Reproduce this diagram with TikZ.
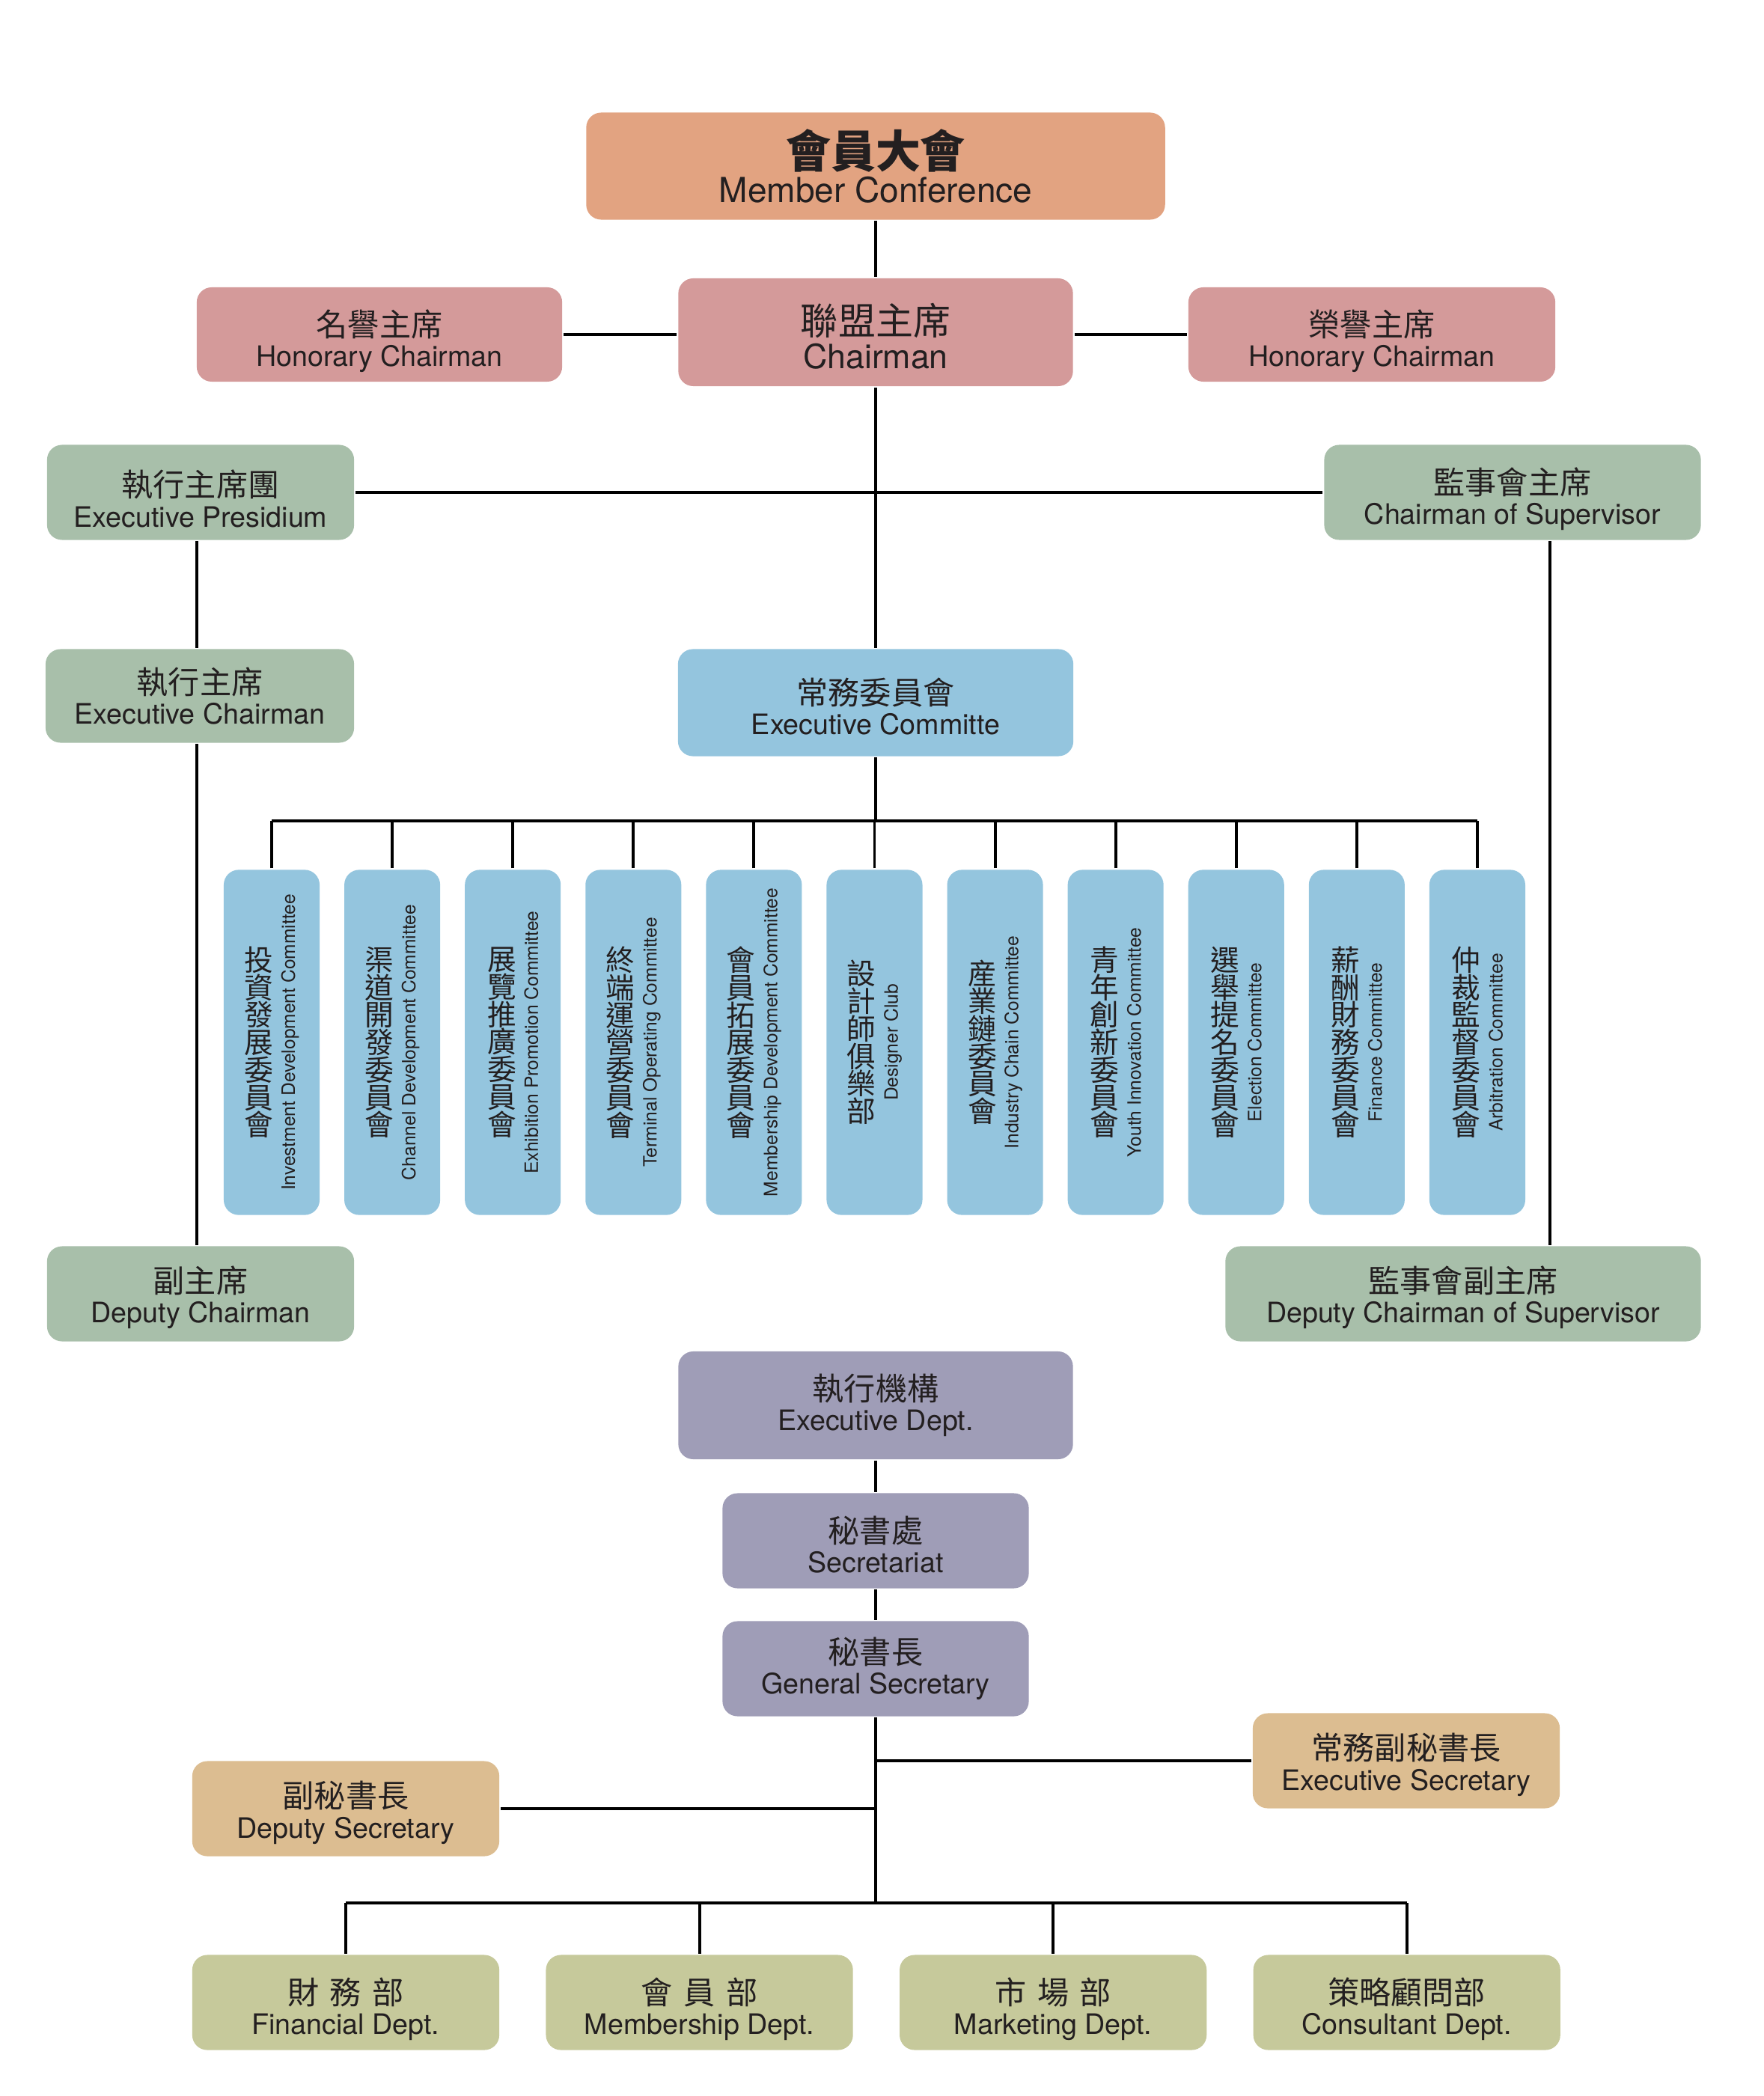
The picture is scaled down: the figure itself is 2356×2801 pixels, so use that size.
\documentclass[tikz,border=0pt]{standalone}
\usepackage{fontspec}
\setmainfont{TeX Gyre Heros}
\newfontfamily\cjk{Noto Sans CJK TC}[Scale=1.12]
\usepackage{graphicx}
\usetikzlibrary{positioning}

\definecolor{confcol}{HTML}{E2A381}
\definecolor{chaircol}{HTML}{D49A9A}
\definecolor{presicol}{HTML}{A8BFAA}
\definecolor{commcol}{HTML}{94C5DE}
\definecolor{deptcol}{HTML}{9F9DB7}
\definecolor{seccol}{HTML}{DCBD91}
\definecolor{unitcol}{HTML}{C6C99B}
\definecolor{inkcol}{HTML}{231F20}

\newcommand{\zh}[2][15pt]{{\cjk\rule{0pt}{#1}#2}}
% committee text: upright chinese column, english turned up
\newcommand{\comm}[2]{%
  $\vcenter{\cjk\fontsize{9.82}{10.45}\selectfont\lineskiplimit=-20pt\let\\\cr
    \halign{\hfil##\hfil\cr#1\cr}}$%
  \hspace{3pt}%
  $\vcenter{\hbox{\rotatebox{90}{\fontsize{7}{8}\selectfont #2}}}$}

\begin{document}
\begin{tikzpicture}[x=0.01cm, y=-0.01cm, line width=1.1pt, on grid,
    box/.style={rounded corners=0.2cm, inner sep=0pt, align=center, text=inkcol,
      minimum width=4.1cm, minimum height=1.27cm, font=\fontsize{10.7}{11.5}\selectfont},
    big/.style={box, minimum width=5.27cm, minimum height=1.44cm,
      font=\fontsize{12.7}{13}\selectfont},
    committee/.style={rounded corners=0.2cm, inner sep=0pt, fill=commcol, text=inkcol,
      minimum width=1.28cm, minimum height=4.61cm},
    unit/.style={box, fill=unitcol}]

    \useasboundingbox (0,0) rectangle (2356,2801);

    %% TOP
    \node[box, fill=confcol, minimum width=7.73cm, minimum height=1.43cm,
      font=\fontsize{13.1}{12.8}\selectfont] (conf) at (1170,222)
      {{\cjk\bfseries\fontsize{15.2}{15.2}\selectfont 會員大會}\\Member Conference};
    \node[big, fill=chaircol] (chair) at (1170,444) {\zh{聯盟主席}\\Chairman};
    \node[box, fill=chaircol, minimum width=4.88cm, minimum height=1.26cm] (hon1) at (507,447)
      {\zh{名譽主席}\\Honorary Chairman};
    \node[box, fill=chaircol, minimum width=4.9cm, minimum height=1.26cm] (hon2) at (1833,447)
      {\zh{榮譽主席}\\Honorary Chairman};

    % presidium and supervisors
    \node[box, fill=presicol] (presid) at (268,658) {\zh{執行主席團}\\Executive Presidium};
    \node[box, fill=presicol, minimum width=5.03cm] (super) at (2021,658)
      {\zh{監事會主席}\\Chairman of Supervisor};
    \node[box, fill=presicol, minimum width=4.12cm, minimum height=1.25cm] (exchair) at (267,930)
      {\zh[10pt]{執行主席}\\Executive Chairman};
    \node[box, fill=commcol, minimum width=5.28cm, minimum height=1.43cm] (excomm) at (1170,939)
      {\zh[13pt]{常務委員會}\\Executive Committe};
    \node[box, fill=presicol] (depchair) at (268,1729) {\zh[13pt]{副主席}\\Deputy Chairman};
    \node[box, fill=presicol, minimum width=6.35cm] (depsuper) at (1955,1729)
      {\zh[13pt]{監事會副主席}\\Deputy Chairman of Supervisor};

    %% COMMITTEES
    \node[committee] (c1) at (363,1393) {\comm{投\\資\\發\\展\\委\\員\\會}{Investment Development Committee}};
    \node[committee, right=1.61cm of c1] (c2) {\comm{渠\\道\\開\\發\\委\\員\\會}{Channel Development Committee}};
    \node[committee, right=1.61cm of c2] (c3) {\comm{展\\覽\\推\\廣\\委\\員\\會}{Exhibition Promotion Committee}};
    \node[committee, right=1.61cm of c3] (c4) {\comm{終\\端\\運\\營\\委\\員\\會}{Terminal Operating Committee}};
    \node[committee, right=1.61cm of c4] (c5) {\comm{會\\員\\拓\\展\\委\\員\\會}{Membership Development Committee}};
    \node[committee, right=1.61cm of c5] (c6) {\comm{設\\計\\師\\俱\\樂\\部}{Designer Club}};
    \node[committee, right=1.61cm of c6] (c7) {\comm{産\\業\\鏈\\委\\員\\會}{Industry Chain Committee}};
    \node[committee, right=1.61cm of c7] (c8) {\comm{青\\年\\創\\新\\委\\員\\會}{Youth Innovation Committee}};
    \node[committee, right=1.61cm of c8] (c9) {\comm{選\\舉\\提\\名\\委\\員\\會}{Election Committee}};
    \node[committee, right=1.61cm of c9] (c10) {\comm{薪\\酬\\財\\務\\委\\員\\會}{Finance Committee}};
    \node[committee, right=1.61cm of c10] (c11) {\comm{仲\\裁\\監\\督\\委\\員\\會}{Arbitration Committee}};

    %% EXECUTIVE DEPT
    \node[big, fill=deptcol, font=\fontsize{10.7}{11.5}\selectfont] (exdept) at (1170,1878)
      {\zh[10pt]{執行機構}\\Executive Dept.};
    \node[box, fill=deptcol, minimum width=4.09cm] (secr) at (1170,2059) {\zh[13pt]{秘書處}\\Secretariat};
    \node[box, fill=deptcol, minimum width=4.09cm] (gensec) at (1170,2230) {\zh[10pt]{秘書長}\\General Secretary};
    \node[box, fill=seccol] (exsec) at (1879,2353) {\zh[13pt]{常務副秘書長}\\Executive Secretary};
    \node[box, fill=seccol] (depsec) at (462,2417) {\zh[13pt]{副秘書長}\\Deputy Secretary};

    \node[unit] (u1) at (462,2676) {\zh{財\hspace{0.35em}務\hspace{0.35em}部}\\Financial Dept.};
    \node[unit, right=4.723cm of u1] (u2) {\zh{會\hspace{0.35em}員\hspace{0.35em}部}\\Membership Dept.};
    \node[unit, right=4.723cm of u2] (u3) {\zh{市\hspace{0.35em}場\hspace{0.35em}部}\\Marketing Dept.};
    \node[unit, right=4.723cm of u3] (u4) {\zh{策略顧問部}\\Consultant Dept.};

    %% LINES
    \coordinate (bus) at (1170,1097);
    \coordinate (presx) at (263,0);
    \coordinate (supx) at (2071,0);
    \coordinate (bus2) at (1170,2543);

    \draw (conf) -- (chair);
    \draw (hon1.east) -- (hon1.east -| chair.west);
    \draw (hon2.west) -- (hon2.west -| chair.east);
    \draw (chair) -- (excomm);
    \draw (presid) -- (super);
    \draw (presid.south -| presx) -- (exchair.north -| presx);
    \draw (exchair.south -| presx) -- (depchair.north -| presx);
    \draw (super.south -| supx) -- (depsuper.north -| supx);

    \draw (excomm) -- (bus);
    \draw (c1 |- bus) -- (c11 |- bus);
    \foreach \i in {1,...,11}
        \draw (c\i) -- (c\i |- bus);

    \draw (exdept) -- (secr);
    \draw (secr) -- (gensec);
    \draw (gensec) -- (bus2);
    \draw (exsec) -- (exsec -| gensec);
    \draw (depsec) -- (depsec -| gensec);
    \draw (u1 |- bus2) -- (u4 |- bus2);
    \foreach \i in {1,...,4}
        \draw (u\i) -- (u\i |- bus2);

\end{tikzpicture}
\end{document}
